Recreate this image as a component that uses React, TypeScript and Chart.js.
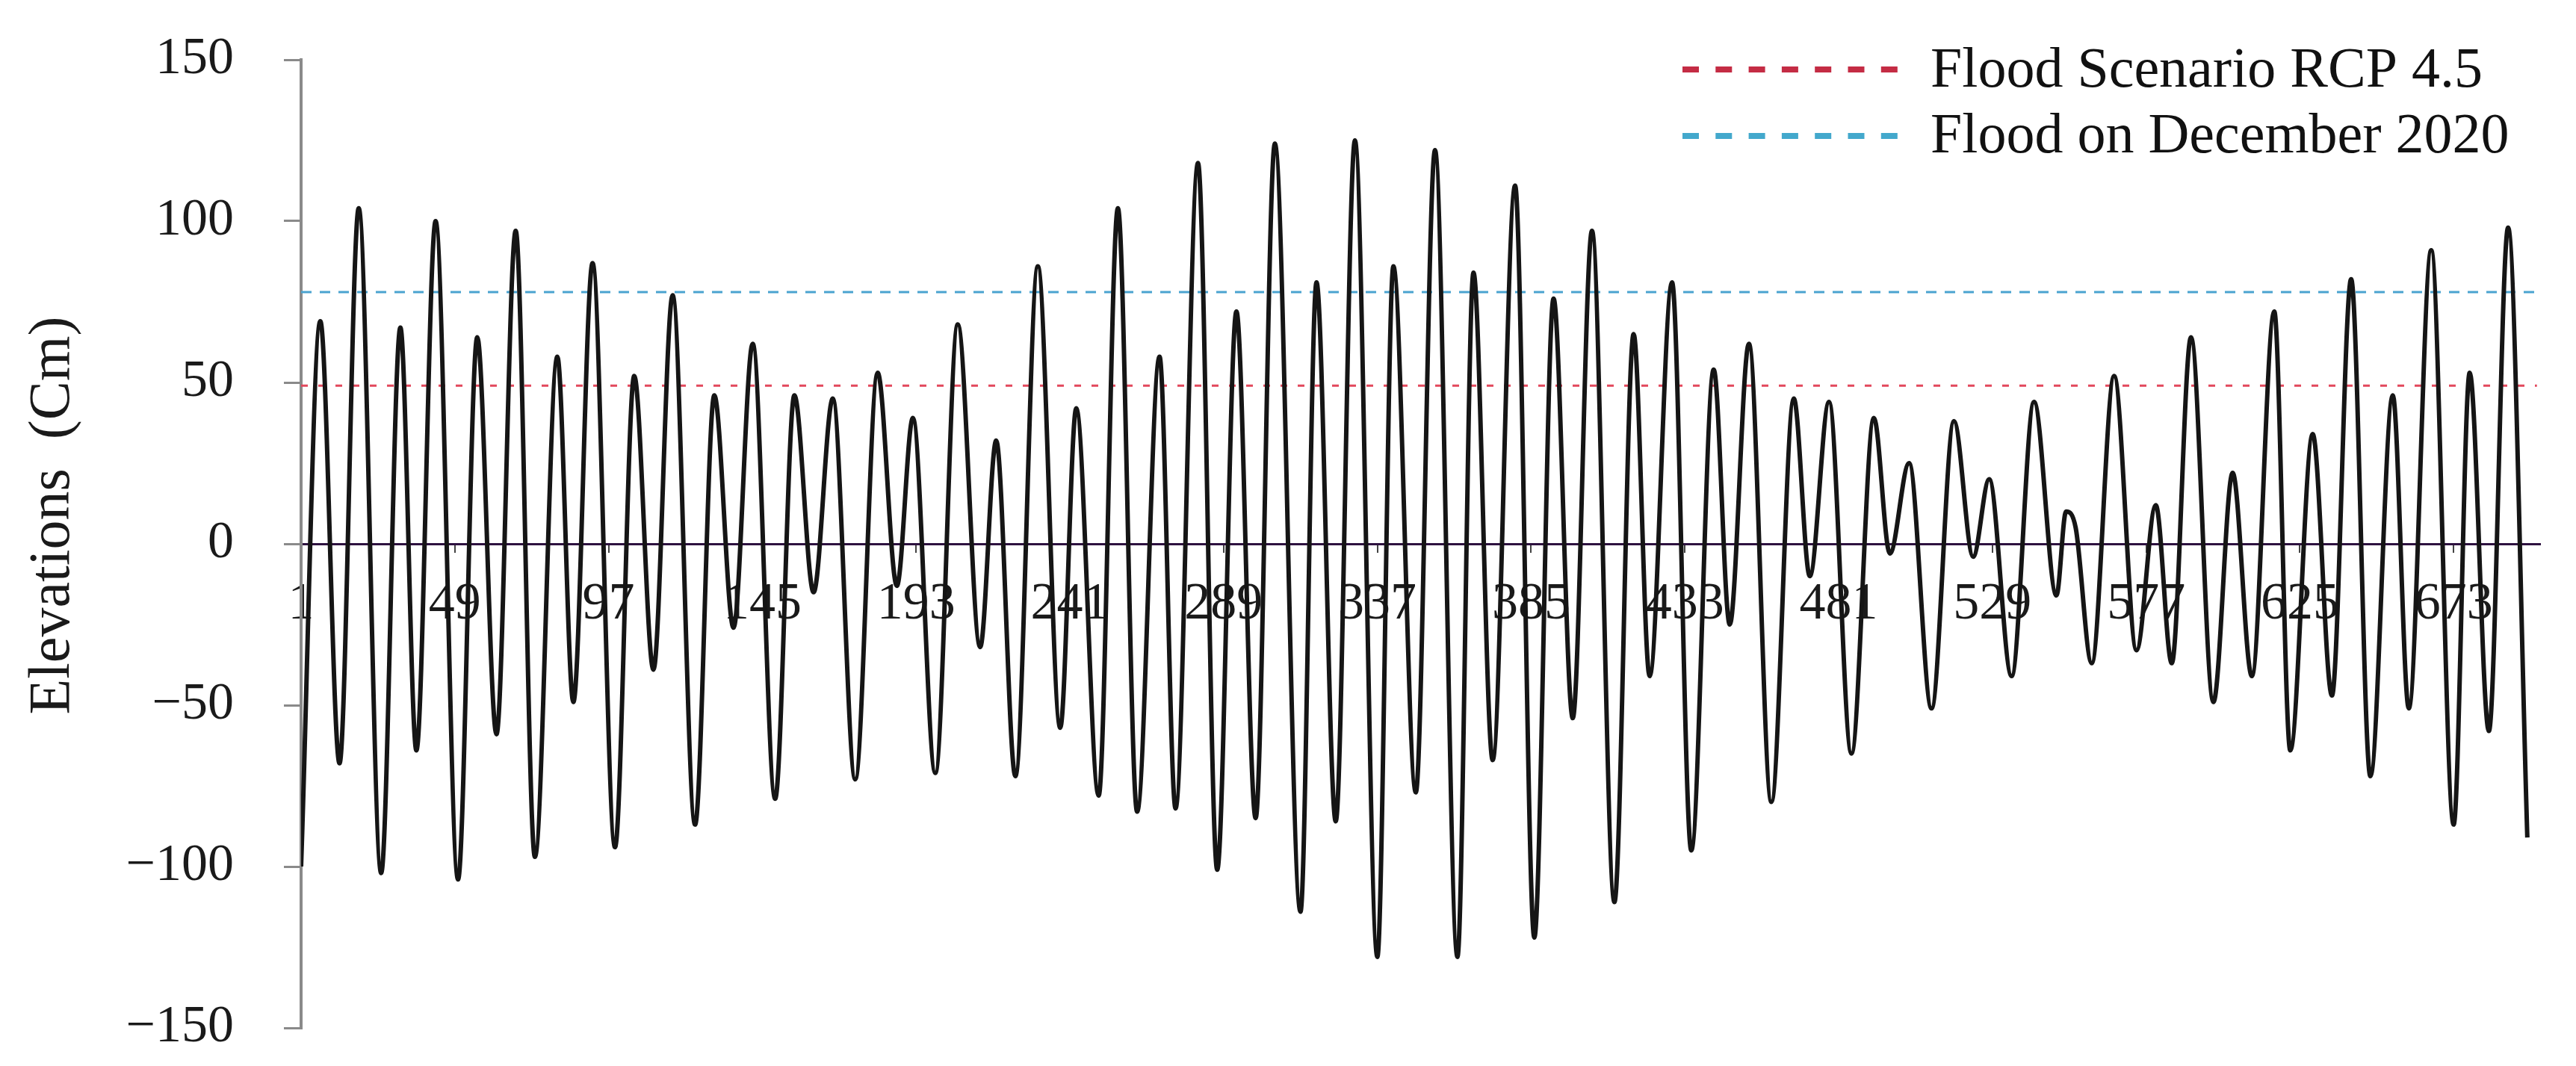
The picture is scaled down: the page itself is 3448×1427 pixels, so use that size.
import React, { useEffect, useRef } from 'react';
import { Chart, registerables } from 'chart.js';

Chart.register(...registerables);

const hours = [
  1, 7, 13, 19, 26, 32, 37, 43, 50, 56,
  62, 68, 74, 81, 86, 92, 99, 105, 111, 117,
  124, 130, 136, 142, 149, 155, 161, 167, 174, 181,
  187, 192, 199, 206, 213, 218, 224, 231, 238, 243,
  250, 256, 262, 269, 274, 281, 287, 293, 299, 305,
  313, 318, 324, 330, 337, 342, 349, 355, 362, 367,
  373, 380, 386, 392, 398, 404, 411, 417, 422, 429,
  435, 442, 447, 453, 460, 467, 472, 478, 485, 492,
  497, 503, 510, 517, 523, 528, 535, 542, 549, 552,
  555, 560, 567, 574, 580, 585, 591, 598, 604, 610,
  617, 622, 629, 635, 641, 647, 654, 659, 666, 673,
  678, 684, 690, 696,
];
const elevations = [
  -100, 69, -68, 104, -102, 67, -64, 100, -104, 64,
  -59, 97, -97, 58, -49, 87, -94, 52, -39, 77,
  -87, 46, -26, 62, -79, 46, -15, 45, -73, 53,
  -13, 39, -71, 68, -32, 32, -72, 86, -57, 42,
  -78, 104, -83, 58, -82, 118, -101, 72, -85, 124,
  -114, 81, -86, 125, -128, 86, -77, 122, -128, 84,
  -67, 111, -122, 76, -54, 97, -111, 65, -41, 81,
  -95, 54, -25, 62, -80, 45, -10, 44, -65, 39,
  -3, 25, -51, 38, -4, 20, -41, 44, -16, 10,
  5, -37, 52, -33, 12, -37, 64, -49, 22, -41,
  72, -64, 34, -47, 82, -72, 46, -51, 91, -87,
  53, -58, 98, -91,
];

const xTickLabels = [1, 49, 97, 145, 193, 241, 289, 337, 385, 433, 481, 529, 577, 625, 673];
const xFirst = 1;
const xLast = 700;
const yMin = -150;
const yMax = 150;
const yStep = 50;

const rcpLevel = 49;
const december2020Level = 78;

const legendLabels = ['Flood Scenario RCP 4.5', 'Flood on December 2020'];
const yAxisTitle = 'Elevations  (Cm)';

const FONT = '"Liberation Serif", "Times New Roman", serif';
const RED_LINE = '#e2485c';
const BLUE_LINE = '#4aa3d0';
const RED_LEGEND = '#c42c44';
const BLUE_LEGEND = '#43a8cc';

export default function App() {
  const canvasRef = useRef<HTMLCanvasElement | null>(null);

  useEffect(() => {
    document.body.style.margin = '0';
    const canvas = canvasRef.current;
    if (!canvas) return;

    const overlay = {
      id: 'overlayText',
      afterDraw(chart: any) {
        const ctx = chart.ctx as CanvasRenderingContext2D;
        const area = chart.chartArea;

        // Y axis title
        ctx.save();
        ctx.fillStyle = '#1a1a1a';
        ctx.font = `78px ${FONT}`;
        ctx.translate(area.left - 331, (area.top + area.bottom) / 2 - 38);
        ctx.rotate(-Math.PI / 2);
        ctx.textAlign = 'center';
        ctx.textBaseline = 'middle';
        ctx.fillText(yAxisTitle, 0, 0);
        ctx.restore();

        // Legend
        const lx0 = 2252;
        const lx1 = 2542;
        const rows = [
          { y: 93, base: 116, color: RED_LEGEND, text: legendLabels[0] },
          { y: 182, base: 204, color: BLUE_LEGEND, text: legendLabels[1] },
        ];
        ctx.save();
        for (const r of rows) {
          ctx.beginPath();
          ctx.setLineDash([22, 22.3]);
          ctx.lineWidth = 8;
          ctx.lineCap = 'butt';
          ctx.strokeStyle = r.color;
          ctx.moveTo(lx0, r.y);
          ctx.lineTo(lx1, r.y);
          ctx.stroke();
        }
        ctx.setLineDash([]);
        ctx.fillStyle = '#111';
        ctx.font = `76px ${FONT}`;
        ctx.textAlign = 'left';
        ctx.textBaseline = 'alphabetic';
        for (const r of rows) ctx.fillText(r.text, 2584, r.base);
        ctx.restore();
      },
    };

    const tide = hours.map((h, i) => ({ x: h, y: elevations[i] }));
    const rcp = [{ x: xFirst, y: rcpLevel }, { x: xLast - 1, y: rcpLevel }];
    const dec = [{ x: xFirst, y: december2020Level }, { x: xLast, y: december2020Level }];

    const chart = new Chart(canvas, {
      type: 'line',
      data: {
        datasets: [
          {
            label: 'Water level',
            data: tide,
            borderColor: '#151515',
            borderWidth: 6,
            pointRadius: 0,
            cubicInterpolationMode: 'monotone',
            fill: false,
          },
          {
            label: legendLabels[0],
            data: rcp,
            borderColor: RED_LINE,
            borderWidth: 3,
            borderDash: [9, 14],
            pointRadius: 0,
            fill: false,
          },
          {
            label: legendLabels[1],
            data: dec,
            borderColor: BLUE_LINE,
            borderWidth: 3,
            borderDash: [14, 11],
            pointRadius: 0,
            fill: false,
          },
        ],
      },
      options: {
        responsive: false,
        animation: false,
        devicePixelRatio: 1,
        layout: { padding: { top: 80, bottom: 51, left: 0, right: 48 } },
        plugins: {
          legend: { display: false },
          tooltip: { enabled: false },
        },
        scales: {
          x: {
            type: 'linear',
            min: xFirst,
            max: xLast,
            position: { y: 0 },
            afterBuildTicks: (scale: any) => {
              scale.ticks = xTickLabels.map((v) => ({ value: v }));
            },
            afterFit: (scale: any) => {
              scale.paddingLeft = 0;
              scale.paddingRight = 0;
            },
            ticks: {
              autoSkip: false,
              maxRotation: 0,
              padding: 30,
              color: '#1a1a1a',
              font: { family: FONT, size: 70 },
              callback: (v: any) => String(v),
            },
            grid: {
              display: true,
              drawOnChartArea: false,
              drawTicks: true,
              tickLength: 10,
              color: '#444',
              lineWidth: 2,
            },
            border: { display: true, color: '#2e1240', width: 3 },
          },
          y: {
            type: 'linear',
            min: yMin,
            max: yMax,
            afterFit: (scale: any) => {
              scale.width = 403;
              scale.paddingTop = 0;
              scale.paddingBottom = 0;
            },
            ticks: {
              stepSize: yStep,
              padding: 67,
              color: '#1a1a1a',
              font: { family: FONT, size: 70 },
              callback: (v: any) => (Number(v) < 0 ? '\u2212' + Math.abs(Number(v)) : String(v)),
            },
            grid: {
              drawOnChartArea: false,
              drawTicks: true,
              tickLength: 23,
              color: '#8a8a8a',
              lineWidth: 3,
            },
            border: { display: true, color: '#8a8a8a', width: 4 },
          },
        },
      },
      plugins: [overlay],
    } as any);

    return () => {
      chart.destroy();
    };
  }, []);

  return (
    <div style={{ width: 3448, height: 1427, background: '#fff' }}>
      <canvas ref={canvasRef} width={3448} height={1427} style={{ display: 'block' }} />
    </div>
  );
}
